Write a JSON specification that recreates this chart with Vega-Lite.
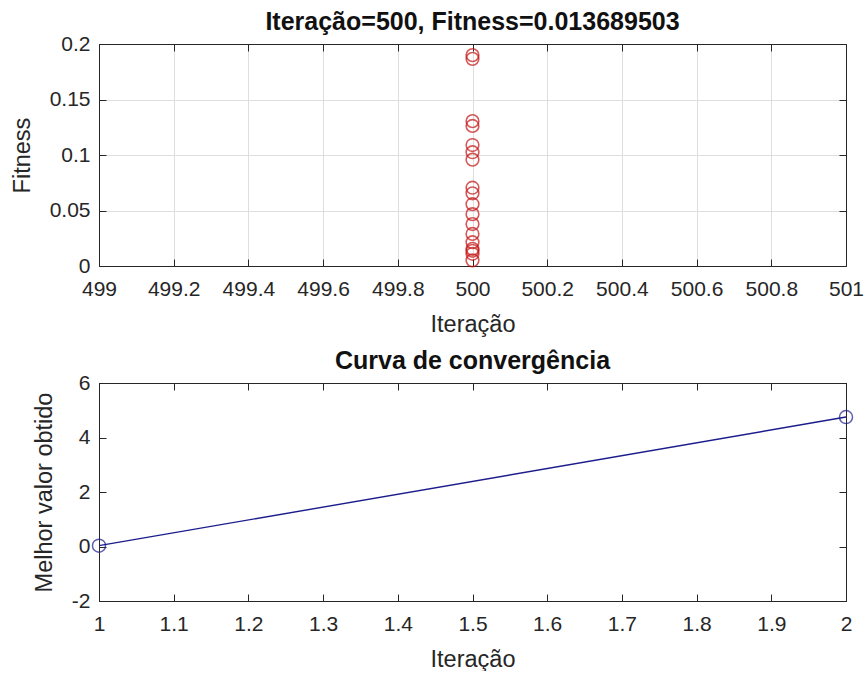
{
  "$schema": "https://vega.github.io/schema/vega-lite/v6.json",
  "background": "white",
  "padding": {"left": 9, "top": 9, "right": 5, "bottom": 0},
  "spacing": 12,
  "datasets": {
    "fit": [
      {"iter": 500, "fitness": 0.190},
      {"iter": 500, "fitness": 0.1866},
      {"iter": 500, "fitness": 0.1305},
      {"iter": 500, "fitness": 0.1262},
      {"iter": 500, "fitness": 0.109},
      {"iter": 500, "fitness": 0.1025},
      {"iter": 500, "fitness": 0.0958},
      {"iter": 500, "fitness": 0.0705},
      {"iter": 500, "fitness": 0.0655},
      {"iter": 500, "fitness": 0.0557},
      {"iter": 500, "fitness": 0.0467},
      {"iter": 500, "fitness": 0.0378},
      {"iter": 500, "fitness": 0.0289},
      {"iter": 500, "fitness": 0.0214},
      {"iter": 500, "fitness": 0.0155},
      {"iter": 500, "fitness": 0.013689503},
      {"iter": 500, "fitness": 0.011},
      {"iter": 500, "fitness": 0.0051}
    ],
    "conv": [
      {"iter": 1, "best": 0.03},
      {"iter": 2, "best": 4.75}
    ]
  },
  "vconcat": [
    {
      "width": 747,
      "height": 222,
      "title": {"text": "Iteração=500, Fitness=0.013689503"},
      "data": {"name": "fit"},
      "layer": [
        {
          "mark": {"type": "point", "shape": "circle", "filled": false, "color": "#c41414", "size": 160, "strokeWidth": 1.6, "clip": false},
          "encoding": {
            "x": {"field": "iter", "type": "quantitative", "title": "Iteração",
              "scale": {"domain": [499, 501], "nice": false, "zero": false},
              "axis": {"orient": "bottom", "grid": true, "format": "~g",
                "values": [499, 499.2, 499.4, 499.6, 499.8, 500, 500.2, 500.4, 500.6, 500.8, 501]}},
            "y": {"field": "fitness", "type": "quantitative", "title": "Fitness",
              "scale": {"domain": [0, 0.2], "nice": false, "zero": false},
              "axis": {"orient": "left", "grid": true, "format": "~g",
                "values": [0, 0.05, 0.1, 0.15, 0.2]}}
          }
        },
        {
          "mark": {"type": "point", "opacity": 0},
          "encoding": {
            "x": {"field": "iter", "type": "quantitative",
              "axis": {"orient": "top", "labels": false, "title": null, "grid": false, "minExtent": 0,
                "values": [499, 499.2, 499.4, 499.6, 499.8, 500, 500.2, 500.4, 500.6, 500.8, 501]}},
            "y": {"field": "fitness", "type": "quantitative",
              "axis": {"orient": "right", "labels": false, "title": null, "grid": false, "minExtent": 0,
                "values": [0, 0.05, 0.1, 0.15, 0.2]}}
          }
        }
      ],
      "resolve": {"axis": {"x": "independent", "y": "independent"}}
    },
    {
      "width": 747,
      "height": 218,
      "title": {"text": "Curva de convergência"},
      "data": {"name": "conv"},
      "layer": [
        {
          "mark": {"type": "line", "color": "#1c1c8c", "strokeWidth": 1.4, "clip": false},
          "encoding": {
            "x": {"field": "iter", "type": "quantitative", "title": "Iteração",
              "scale": {"domain": [1, 2], "nice": false, "zero": false},
              "axis": {"orient": "bottom", "grid": false, "format": "~g",
                "values": [1, 1.1, 1.2, 1.3, 1.4, 1.5, 1.6, 1.7, 1.8, 1.9, 2]}},
            "y": {"field": "best", "type": "quantitative", "title": "Melhor valor obtido",
              "scale": {"domain": [-2, 6], "nice": false, "zero": false},
              "axis": {"orient": "left", "grid": false,
                "labelExpr": "replace(format(datum.value, '~g'), '\u2212', '-')",
                "values": [-2, 0, 2, 4, 6]}}
          }
        },
        {
          "mark": {"type": "point", "shape": "circle", "filled": false, "color": "#1c1c8c", "size": 170, "strokeWidth": 1.5, "clip": false},
          "encoding": {
            "x": {"field": "iter", "type": "quantitative", "axis": null},
            "y": {"field": "best", "type": "quantitative", "axis": null}
          }
        },
        {
          "mark": {"type": "point", "opacity": 0},
          "encoding": {
            "x": {"field": "iter", "type": "quantitative",
              "axis": {"orient": "top", "labels": false, "title": null, "grid": false, "minExtent": 0,
                "values": [1, 1.1, 1.2, 1.3, 1.4, 1.5, 1.6, 1.7, 1.8, 1.9, 2]}},
            "y": {"field": "best", "type": "quantitative",
              "axis": {"orient": "right", "labels": false, "title": null, "grid": false, "minExtent": 0,
                "values": [-2, 0, 2, 4, 6]}}
          }
        }
      ],
      "resolve": {"axis": {"x": "independent", "y": "independent"}}
    }
  ],
  "config": {
    "font": "Liberation Sans",
    "view": {"stroke": "#262626", "strokeWidth": 1},
    "axis": {
      "domainColor": "#262626",
      "domainWidth": 1,
      "tickColor": "#262626",
      "tickSize": -7,
      "labelColor": "#262626",
      "titleColor": "#262626",
      "labelFont": "Liberation Sans",
      "titleFont": "Liberation Sans",
      "labelFontSize": 21,
      "titleFontSize": 23.5,
      "titleFontWeight": "normal",
      "labelOverlap": false,
      "labelFlush": false,
      "labelBound": false,
      "gridColor": "#dedede",
      "gridWidth": 1
    },
    "axisX": {"labelPadding": 19, "titlePadding": 13},
    "axisY": {"labelPadding": 16, "titlePadding": 15},
    "title": {"fontSize": 25, "fontWeight": "bold", "color": "#111111", "font": "Liberation Sans", "offset": -2}
  }
}
